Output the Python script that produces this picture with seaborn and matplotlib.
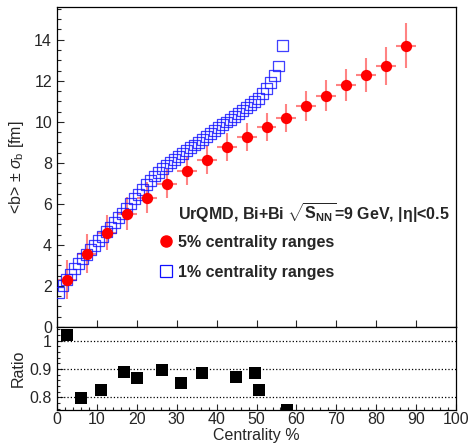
import numpy as np
import matplotlib
matplotlib.use("Agg")
import matplotlib.pyplot as plt
import seaborn as sns
from matplotlib.lines import Line2D
from matplotlib.ticker import MultipleLocator

# 5% centrality classes
cent5 = [2.5, 7.5, 12.5, 17.5, 22.5, 27.5, 32.5, 37.5, 42.5, 47.5,
         52.5, 57.5, 62.5, 67.5, 72.5, 77.5, 82.5, 87.5]
b5 = [2.30, 3.57, 4.60, 5.52, 6.30, 6.98, 7.60, 8.16, 8.77, 9.26,
      9.75, 10.20, 10.76, 11.28, 11.80, 12.28, 12.71, 13.70]
sig5 = [0.95, 0.95, 0.85, 0.80, 0.75, 0.70, 0.70, 0.68, 0.67, 0.67,
        0.67, 0.68, 0.72, 0.75, 0.78, 0.85, 0.92, 1.10]
xerr5 = [2.5] * len(cent5)

# 1% centrality classes
cent1 = [c + 0.5 for c in range(57)]
b1 = [1.70, 2.00, 2.30, 2.58, 2.84, 3.08, 3.32, 3.55, 3.77, 3.99,
      4.21, 4.43, 4.65, 4.87, 5.09, 5.32, 5.55, 5.78, 6.01, 6.24,
      6.47, 6.70, 6.93, 7.15, 7.36, 7.55, 7.72, 7.88, 8.03, 8.17,
      8.31, 8.45, 8.59, 8.73, 8.87, 9.01, 9.15, 9.29, 9.43, 9.57,
      9.71, 9.85, 9.99, 10.13, 10.27, 10.41, 10.55, 10.69, 10.83, 10.97,
      11.13, 11.38, 11.62, 11.92, 12.28, 12.72, 13.70]

# ratio panel
ratio_x = [2.5, 5.9, 11.1, 16.7, 20.0, 26.4, 31.1, 36.3, 44.9, 49.7, 50.5, 57.7]
ratio_y = [1.020, 0.797, 0.824, 0.889, 0.867, 0.895, 0.852, 0.885, 0.872, 0.885, 0.826, 0.755]

sns.set_style("ticks")
plt.rcParams['font.family'] = ['Liberation Sans', 'DejaVu Sans']
plt.rcParams['mathtext.fontset'] = 'custom'
plt.rcParams['mathtext.rm'] = 'Liberation Sans'
plt.rcParams['mathtext.it'] = 'Liberation Sans:italic'
plt.rcParams['mathtext.bf'] = 'Liberation Sans:bold'
FS = 11.5

fig = plt.figure(figsize=(4.69, 4.47), dpi=100)
ax = fig.add_axes([0.1215, 0.2685, 0.851, 0.716])
axr = fig.add_axes([0.1215, 0.0828, 0.851, 0.1857])

# top panel
ax.errorbar(cent5, b5, yerr=sig5, xerr=xerr5, fmt='none', ecolor='#ff3030',
            alpha=0.6, elinewidth=1.5, capsize=0, zorder=2)
sns.scatterplot(x=cent1, y=b1, ax=ax, marker='s', s=62, facecolors='none',
                edgecolor='#1010ff', linewidth=0.9, alpha=0.8, zorder=3)
sns.scatterplot(x=cent5, y=b5, ax=ax, marker='o', s=66, color='red',
                edgecolor='red', linewidth=0, zorder=4)

ax.set_xlim(0, 100)
ax.set_ylim(0, 15.6)
ax.yaxis.set_major_locator(MultipleLocator(2))
ax.yaxis.set_minor_locator(MultipleLocator(0.5))
ax.xaxis.set_major_locator(MultipleLocator(10))
ax.tick_params(axis='both', which='both', direction='in', top=False, right=False,
               labelsize=FS, width=0.8)
ax.tick_params(axis='y', which='major', length=5)
ax.tick_params(axis='y', which='minor', length=3)
ax.tick_params(axis='x', which='major', length=5, labelbottom=False)
ax.set_ylabel(r'<b> $\pm$ $\sigma_{\rm b}$ [fm]', fontsize=FS)
ax.yaxis.set_label_coords(-0.078, 0.5)
ax.set_xlabel('')

ax.text(0.302, 0.356, r'UrQMD, Bi+Bi $\sqrt{\mathbf{S}_{\mathbf{NN}}}$=9 GeV, |η|<0.5',
        transform=ax.transAxes, fontsize=FS, fontweight='bold', va='center', ha='left')
handles = [Line2D([], [], marker='o', ls='none', color='red', markersize=8),
           Line2D([], [], marker='s', ls='none', markerfacecolor='none',
                  markeredgecolor='#1010ff', markersize=8, markeredgewidth=0.9)]
leg = ax.legend(handles, ['5% centrality ranges', '1% centrality ranges'],
                loc='upper left', bbox_to_anchor=(0.258, 0.288), frameon=False,
                handlelength=0.8, handletextpad=0.3, borderpad=0, borderaxespad=0,
                labelspacing=0.95, prop={'size': FS, 'weight': 'bold'})

for sp in ax.spines.values():
    sp.set_linewidth(0.9)
    sp.set_color('black')

# ratio panel
for yv in [0.8, 0.9, 1.0]:
    axr.axhline(yv, color='black', ls=':', lw=0.9, zorder=1)
sns.scatterplot(x=ratio_x, y=ratio_y, ax=axr, marker='s', s=72, color='black',
                edgecolor='black', linewidth=0, zorder=3)
axr.set_xlim(0, 100)
axr.set_ylim(0.755, 1.048)
axr.set_yticks([0.8, 0.9, 1.0])
axr.set_yticklabels(['0.8', '0.9', '1'])
axr.yaxis.set_minor_locator(MultipleLocator(0.02))
axr.xaxis.set_major_locator(MultipleLocator(10))
axr.xaxis.set_minor_locator(MultipleLocator(2))
axr.tick_params(axis='both', which='both', direction='in', top=False, right=False,
                labelsize=FS, width=0.8)
axr.tick_params(axis='both', which='major', length=4)
axr.tick_params(axis='both', which='minor', length=2)
axr.tick_params(axis='x', pad=1.5)
axr.set_ylabel('Ratio', fontsize=FS)
axr.yaxis.set_label_coords(-0.078, 0.5)
axr.set_xlabel('Centrality %', fontsize=FS, labelpad=1)
for sp in axr.spines.values():
    sp.set_linewidth(0.9)
    sp.set_color('black')

fig.savefig('out.png', dpi=100)
